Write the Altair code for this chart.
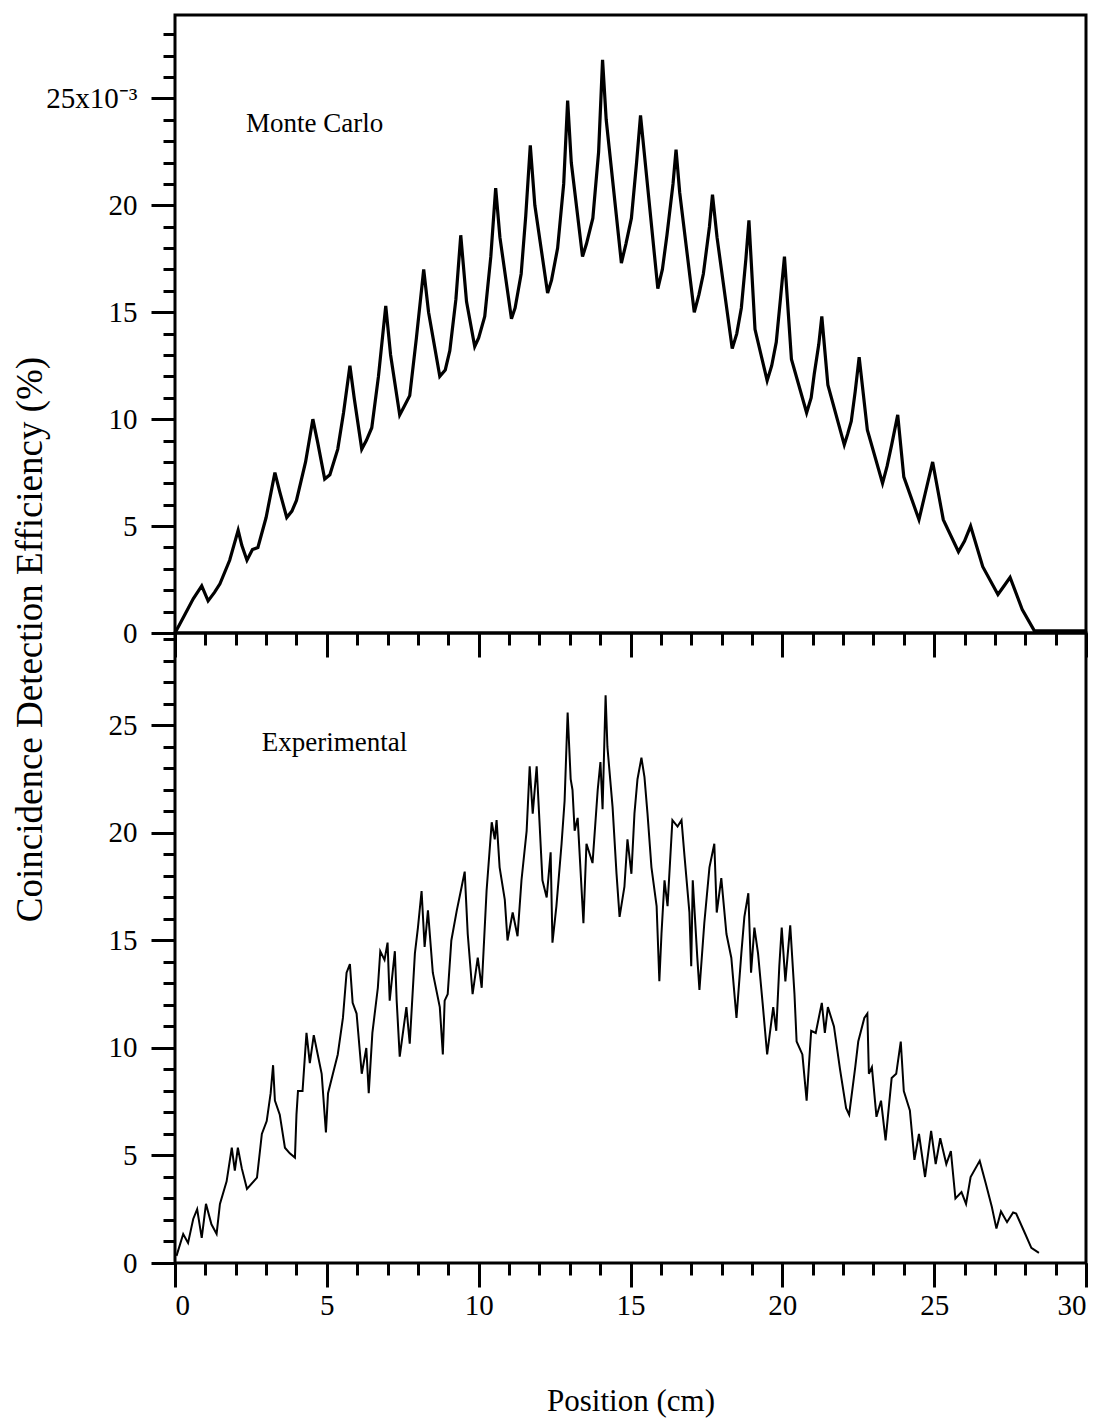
import altair as alt
import pandas as pd

# ---------------- data ----------------
mc_x = [0.0, 0.3, 0.6, 0.88, 1.09, 1.3, 1.48, 1.8, 2.08, 2.2, 2.37, 2.55, 2.73, 3.0, 3.29, 3.45,
        3.68, 3.85, 4.0, 4.3, 4.54, 4.7, 4.93, 5.1, 5.36, 5.55, 5.76, 5.9, 6.15, 6.3, 6.48, 6.7,
        6.94, 7.1, 7.4, 7.55, 7.73, 7.95, 8.19, 8.35, 8.72, 8.9, 9.05, 9.25, 9.41, 9.6, 9.87, 10.0,
        10.2, 10.4, 10.56, 10.7, 11.08, 11.2, 11.4, 11.55, 11.7, 11.85, 12.27, 12.4, 12.6, 12.8,
        12.93, 13.05, 13.42, 13.55, 13.76, 13.95, 14.08, 14.2, 14.7, 14.85, 15.03, 15.2, 15.33,
        15.45, 15.9, 16.05, 16.2, 16.4, 16.5, 16.62, 17.1, 17.25, 17.4, 17.6, 17.7, 17.85, 18.35,
        18.5, 18.65, 18.8, 18.9, 19.1, 19.5, 19.65, 19.8, 19.95, 20.07, 20.3, 20.8, 20.95, 21.05,
        21.2, 21.3, 21.5, 22.04, 22.15, 22.27, 22.4, 22.53, 22.8, 23.3, 23.45, 23.6, 23.8, 24.0,
        24.5, 24.7, 24.95, 25.3, 25.8, 26.0, 26.2, 26.6, 27.1, 27.3, 27.5, 27.9, 28.3, 30.0]
mc_y = [0.0, 0.8, 1.6, 2.2, 1.5, 1.9, 2.3, 3.4, 4.8, 4.1, 3.4, 3.9, 4.0, 5.4, 7.5, 6.6,
        5.4, 5.7, 6.2, 8.0, 10.0, 8.9, 7.2, 7.4, 8.6, 10.3, 12.5, 11.0, 8.6, 9.0, 9.6, 12.0,
        15.3, 13.0, 10.2, 10.6, 11.1, 13.8, 17.0, 15.0, 12.0, 12.3, 13.2, 15.6, 18.6, 15.5, 13.4, 13.8,
        14.8, 17.6, 20.8, 18.5, 14.7, 15.2, 16.8, 19.5, 22.8, 20.0, 15.9, 16.5, 18.0, 21.0,
        24.9, 22.0, 17.6, 18.2, 19.4, 22.5, 26.8, 24.0, 17.3, 18.2, 19.4, 22.0, 24.2,
        22.5, 16.1, 17.0, 18.6, 21.0, 22.6, 20.6, 15.0, 15.8, 16.8, 19.0, 20.5, 18.5, 13.3,
        14.0, 15.2, 17.5, 19.3, 14.2, 11.8, 12.5, 13.6, 15.8, 17.6, 12.8, 10.3, 11.0, 12.1,
        13.5, 14.8, 11.6, 8.8, 9.3, 9.9, 11.3, 12.9, 9.5, 7.0, 7.8, 8.8, 10.2, 7.3,
        5.3, 6.5, 8.0, 5.3, 3.8, 4.3, 5.0, 3.1, 1.8, 2.2, 2.6, 1.1, 0.1, 0.1]

ex_x = [0.05, 0.27, 0.43, 0.6, 0.73, 0.88, 1.02, 1.2, 1.37, 1.48, 1.7, 1.87, 1.97, 2.07, 2.2, 2.37,
        2.7, 2.86, 3.02, 3.15, 3.23, 3.29, 3.45, 3.62, 3.78, 3.95, 4.0, 4.05, 4.2, 4.33, 4.44, 4.57,
        4.7, 4.83, 4.97, 5.04, 5.2, 5.36, 5.53, 5.65, 5.76, 5.85, 5.98, 6.15, 6.3, 6.38, 6.5, 6.68,
        6.76, 6.9, 7.0, 7.07, 7.24, 7.3, 7.4, 7.62, 7.73, 7.9, 8.0, 8.12, 8.22, 8.33, 8.49, 8.72,
        8.82, 8.88, 8.98, 9.1, 9.28, 9.44, 9.54, 9.64, 9.8, 9.97, 10.1, 10.26, 10.43, 10.53, 10.59,
        10.69, 10.86, 10.95, 11.12, 11.28, 11.41, 11.58, 11.68, 11.78, 11.91, 12.0, 12.1, 12.24,
        12.37, 12.43, 12.56, 12.73, 12.83, 12.93, 13.03, 13.09, 13.16, 13.26, 13.45, 13.55, 13.75,
        13.92, 14.01, 14.08, 14.18, 14.24, 14.41, 14.54, 14.64, 14.8, 14.9, 15.03, 15.13, 15.23,
        15.36, 15.46, 15.56, 15.69, 15.86, 15.95, 16.02, 16.12, 16.22, 16.38, 16.55, 16.68, 16.78,
        16.94, 17.0, 17.05, 17.2, 17.27, 17.43, 17.6, 17.76, 17.84, 17.99, 18.16, 18.32, 18.49,
        18.65, 18.75, 18.88, 18.97, 19.08, 19.2, 19.35, 19.5, 19.7, 19.8, 19.9, 19.98, 20.1, 20.26,
        20.4, 20.47, 20.66, 20.8, 20.95, 21.1, 21.3, 21.4, 21.5, 21.7, 21.9, 22.1, 22.2, 22.4, 22.5,
        22.7, 22.8, 22.85, 22.95, 23.1, 23.25, 23.4, 23.6, 23.75, 23.9, 24.0, 24.2, 24.35, 24.5,
        24.7, 24.9, 25.05, 25.2, 25.4, 25.55, 25.7, 25.9, 26.05, 26.2, 26.5, 26.7, 26.9, 27.05,
        27.2, 27.4, 27.6, 27.7, 28.0, 28.2, 28.45]
ex_y = [0.33, 1.35, 0.93, 2.05, 2.5, 1.17, 2.75, 1.8, 1.35, 2.75, 3.8, 5.36, 4.3, 5.36, 4.4, 3.45,
        3.97, 6.0, 6.6, 7.9, 9.2, 7.55, 6.9, 5.36, 5.1, 4.9, 6.9, 8.0, 8.0, 10.7, 9.3, 10.6,
        9.7, 8.8, 6.07, 7.9, 8.8, 9.7, 11.4, 13.5, 13.9, 12.1, 11.6, 8.8, 10.0, 7.9, 10.7, 12.8,
        14.5, 14.1, 14.9, 12.2, 14.5, 12.2, 9.6, 11.9, 10.2, 14.4, 15.6, 17.3, 14.7, 16.4, 13.5, 11.9,
        9.7, 12.2, 12.5, 15.0, 16.4, 17.5, 18.2, 15.3, 12.5, 14.2, 12.8, 17.3, 20.5, 19.7, 20.6,
        18.4, 16.9, 15.0, 16.3, 15.2, 17.8, 20.1, 23.1, 20.9, 23.1, 20.6, 17.8, 17.0,
        19.1, 14.9, 16.6, 19.5, 21.5, 25.6, 22.5, 22.0, 20.1, 20.7, 15.8, 19.5, 18.6,
        22.0, 23.3, 21.1, 26.4, 24.0, 21.2, 18.1, 16.1, 17.5, 19.7, 18.1, 20.9, 22.5,
        23.5, 22.6, 20.9, 18.4, 16.6, 13.1, 15.3, 17.8, 16.6, 20.6, 20.3, 20.6, 18.9,
        16.3, 13.8, 17.8, 14.2, 12.7, 15.8, 18.4, 19.5, 16.3, 17.9, 15.3, 14.2, 11.4,
        14.4, 16.1, 17.2, 13.5, 15.6, 14.4, 12.1, 9.7, 11.9, 10.8, 13.8, 15.6, 13.1, 15.7,
        12.5, 10.3, 9.7, 7.55, 10.8, 10.7, 12.1, 10.7, 11.9, 11.0, 9.0, 7.2, 6.9, 9.1, 10.3,
        11.4, 11.6, 8.8, 9.1, 6.8, 7.55, 5.7, 8.6, 8.8, 10.3, 8.0, 7.1, 4.8, 6.0,
        4.0, 6.15, 4.6, 5.8, 4.6, 5.2, 3.0, 3.3, 2.75, 4.0, 4.75, 3.7, 2.6, 1.6,
        2.4, 1.9, 2.35, 2.3, 1.35, 0.7, 0.47]

top_note = ["Monte Carlo"]
top_note_x = [2.34]
top_note_y = [23.8]
bot_note = ["Experimental"]
bot_note_x = [2.86]
bot_note_y = [24.2]

x_major = [0, 5, 10, 15, 20, 25, 30]
x_minor = list(range(0, 31))
y_major = [0, 5, 10, 15, 20, 25]
top_minor = list(range(0, 29))
bot_minor = list(range(0, 30))

FONT = "Liberation Serif"
W = 911
TOP_H, BOT_H = 618, 630
TOP_MAX, BOT_MAX = 28.9, 29.3

mc = pd.DataFrame({"x": mc_x, "y": mc_y})
ex = pd.DataFrame({"x": ex_x, "y": ex_y})
tn = pd.DataFrame({"t": top_note, "x": top_note_x, "y": top_note_y})
bn = pd.DataFrame({"t": bot_note, "x": bot_note_x, "y": bot_note_y})

common_axis = dict(domain=False, grid=False, tickColor="black", tickWidth=3,
                   labelFont=FONT, labelFontSize=29, labelColor="black",
                   titleFont=FONT, titleColor="black", titleFontWeight="normal")


def panel(df, notes, ymax, height, stroke_w, ylabel_expr, show_x_labels, x_title, y_title):
    xs = alt.Scale(domain=[0, 30], nice=False, zero=False)
    ys = alt.Scale(domain=[0, ymax], nice=False, zero=True)

    x_major_args = dict(orient="bottom", values=x_major, tickSize=24, labels=show_x_labels,
                        labelPadding=4, **common_axis)
    if x_title:
        x_major_args.update(title=x_title, titleFontSize=31, titleX=W / 2, titleY=138,
                            titleBaseline="middle", titleAlign="center")
    else:
        x_major_args.update(title=None)

    y_major_args = dict(orient="left", values=y_major, tickSize=24, labelPadding=14,
                        labelExpr=ylabel_expr, **common_axis)
    if y_title:
        y_major_args.update(title=y_title, titleFontSize=37, titleX=-145, titleY=624,
                            titleAngle=270, titleBaseline="middle", titleAlign="center")
    else:
        y_major_args.update(title=None)

    line = alt.Chart(df).mark_line(color="black", strokeWidth=stroke_w,
                                   strokeJoin="miter").encode(
        x=alt.X("x:Q", scale=xs, axis=alt.Axis(**x_major_args)),
        y=alt.Y("y:Q", scale=ys, axis=alt.Axis(**y_major_args)),
    )
    yminor = top_minor if ymax < 29 else bot_minor
    minor = alt.Chart(df).mark_point(opacity=0).encode(
        x=alt.X("x:Q", scale=xs, axis=alt.Axis(orient="bottom", values=x_minor, tickSize=12,
                                                labels=False, title=None, **common_axis)),
        y=alt.Y("y:Q", scale=ys, axis=alt.Axis(orient="left", values=yminor, tickSize=12,
                                                labels=False, title=None, **common_axis)),
    )
    note = alt.Chart(notes).mark_text(align="left", baseline="middle", font=FONT,
                                      fontSize=27, color="black").encode(
        x=alt.X("x:Q", scale=xs, axis=None),
        y=alt.Y("y:Q", scale=ys, axis=None),
        text="t:N",
    )
    return alt.layer(minor, line, note).resolve_axis(x="independent", y="independent").properties(
        width=W, height=height)


top = panel(mc, tn, TOP_MAX, TOP_H, 3.2,
            "datum.value == 25 ? '25x10⁻³' : datum.label", False, None,
            "Coincidence Detection Efficiency (%)")
bottom = panel(ex, bn, BOT_MAX, BOT_H, 2.0, "datum.label", True, "Position (cm)", None)

chart = alt.vconcat(top, bottom, spacing=0, bounds="flush").properties(
    padding={"left": 9, "top": 13, "right": 10, "bottom": 5}
).configure_view(stroke="black", strokeWidth=3)

chart.save("out.html", embed_options={"renderer": "svg", "actions": False})
